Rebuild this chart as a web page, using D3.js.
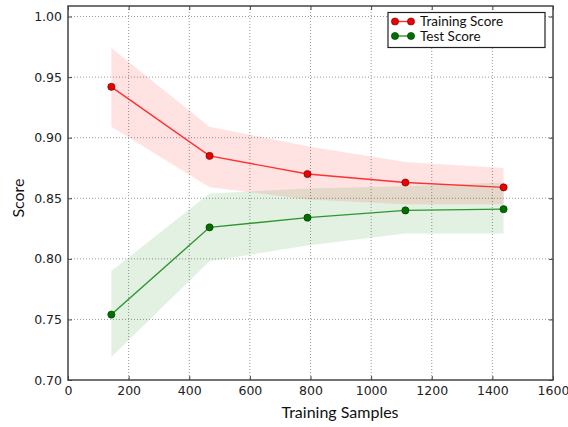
<!DOCTYPE html>
<html>
<head>
<meta charset="utf-8">
<script src="https://cdn.jsdelivr.net/npm/d3@7"></script>
<style>
  body { margin: 0; background: #fff; }
  svg { display: block; }
  .tick text { font-family: "DejaVu Sans", sans-serif; font-size: 12.5px; fill: #222; }
</style>
</head>
<body>
<svg id="chart" width="568" height="427"></svg>
<script>
var trainSizes = [143, 467, 790, 1113, 1437];
var trainMean = [0.942, 0.885, 0.870, 0.863, 0.859];
var trainLow  = [0.909, 0.859, 0.849, 0.845, 0.845];
var trainHigh = [0.974, 0.909, 0.893, 0.880, 0.875];
var testMean  = [0.754, 0.826, 0.834, 0.840, 0.841];
var testLow   = [0.719, 0.798, 0.811, 0.821, 0.821];
var testHigh  = [0.790, 0.854, 0.858, 0.860, 0.863];
var xTicks = [0, 200, 400, 600, 800, 1000, 1200, 1400, 1600];
var yTicks = [0.70, 0.75, 0.80, 0.85, 0.90, 0.95, 1.00];

var svg = d3.select("#chart");
var margin = {top: 6, right: 15, bottom: 47, left: 68};
var width = +svg.attr("width") - margin.left - margin.right;
var height = +svg.attr("height") - margin.top - margin.bottom;

var x = d3.scaleLinear().domain([0, 1600]).range([0, width]);
var y = d3.scaleLinear().domain([0.7, 1.0087]).range([height, 0]);

var g = svg.append("g").attr("transform", "translate(" + margin.left + "," + margin.top + ")");

// grid
g.append("g").selectAll("line").data(xTicks.slice(1, -1)).enter().append("line")
    .attr("x1", function (d) { return x(d); }).attr("x2", function (d) { return x(d); })
    .attr("y1", 0).attr("y2", height)
    .attr("stroke", "#999").attr("stroke-dasharray", "1,2");
g.append("g").selectAll("line").data(yTicks.slice(1)).enter().append("line")
    .attr("y1", function (d) { return y(d); }).attr("y2", function (d) { return y(d); })
    .attr("x1", 0).attr("x2", width)
    .attr("stroke", "#999").attr("stroke-dasharray", "1,2");

function band(low, high) {
    return d3.area()
        .x(function (d, i) { return x(trainSizes[i]); })
        .y0(function (d, i) { return y(low[i]); })
        .y1(function (d, i) { return y(high[i]); })(trainSizes);
}
var line = function (vals) {
    return d3.line()
        .x(function (d, i) { return x(trainSizes[i]); })
        .y(function (d) { return y(d); })(vals);
};

g.append("path").attr("d", band(trainLow, trainHigh)).attr("fill", "#ff0000").attr("fill-opacity", 0.11);
g.append("path").attr("d", band(testLow, testHigh)).attr("fill", "#008000").attr("fill-opacity", 0.11);

g.append("path").attr("d", line(trainMean)).attr("fill", "none").attr("stroke", "#ff3030").attr("stroke-width", 1.4);
g.append("path").attr("d", line(testMean)).attr("fill", "none").attr("stroke", "#2e962e").attr("stroke-width", 1.4);

g.append("g").selectAll("circle").data(trainMean).enter().append("circle")
    .attr("cx", function (d, i) { return x(trainSizes[i]); })
    .attr("cy", function (d) { return y(d); })
    .attr("r", 3.6).attr("fill", "#ee0000").attr("stroke", "#550000").attr("stroke-width", 0.6);
g.append("g").selectAll("circle").data(testMean).enter().append("circle")
    .attr("cx", function (d, i) { return x(trainSizes[i]); })
    .attr("cy", function (d) { return y(d); })
    .attr("r", 3.6).attr("fill", "#007000").attr("stroke", "#003000").attr("stroke-width", 0.6);

// axes with inward ticks
var ax = g.append("g").attr("transform", "translate(0," + height + ")")
    .call(d3.axisBottom(x).tickValues(xTicks).tickFormat(d3.format("d")).tickSizeInner(-4).tickSizeOuter(0).tickPadding(6));
var ay = g.append("g")
    .call(d3.axisLeft(y).tickValues(yTicks).tickFormat(d3.format(".2f")).tickSizeInner(-4).tickSizeOuter(0).tickPadding(6));
g.append("g").call(d3.axisTop(x).tickValues(xTicks).tickFormat("").tickSizeInner(-4).tickSizeOuter(0));
g.append("g").attr("transform", "translate(" + width + ",0)")
    .call(d3.axisRight(y).tickValues(yTicks).tickFormat("").tickSizeInner(-4).tickSizeOuter(0));
g.selectAll(".domain").remove();
g.selectAll(".tick line").attr("stroke", "#444");

g.append("rect").attr("width", width).attr("height", height)
    .attr("fill", "none").attr("stroke", "#444").attr("stroke-width", 1.5);

// labels
svg.append("text").attr("x", 340).attr("y", 418).attr("text-anchor", "middle")
    .style("font-family", "Lato, sans-serif").style("font-size", "16px").attr("fill", "#111")
    .text("Training Samples");
svg.append("text").attr("transform", "translate(24,198) rotate(-90)").attr("text-anchor", "middle")
    .style("font-family", "Lato, sans-serif").style("font-size", "16px").attr("fill", "#111")
    .text("Score");

// legend
var legend = svg.append("g");
legend.append("rect").attr("x", 388).attr("y", 12.5).attr("width", 157).attr("height", 35)
    .attr("fill", "#fff").attr("stroke", "#222").attr("stroke-width", 1.2);
var items = [["Training Score", "#ff3030", "#ee0000", "#550000"], ["Test Score", "#2e962e", "#007000", "#003000"]];
items.forEach(function (it, i) {
    var cy = 21.5 + i * 14.5;
    legend.append("line").attr("x1", 395).attr("x2", 411).attr("y1", cy).attr("y2", cy)
        .attr("stroke", it[1]).attr("stroke-width", 1.4);
    [395, 411].forEach(function (cx) {
        legend.append("circle").attr("cx", cx).attr("cy", cy).attr("r", 3.6)
            .attr("fill", it[2]).attr("stroke", it[3]).attr("stroke-width", 0.6);
    });
    legend.append("text").attr("x", 420).attr("y", cy + 4.5)
        .style("font-family", "Lato, sans-serif").style("font-size", "13.5px").attr("fill", "#111")
        .text(it[0]);
});
</script>
</body>
</html>
